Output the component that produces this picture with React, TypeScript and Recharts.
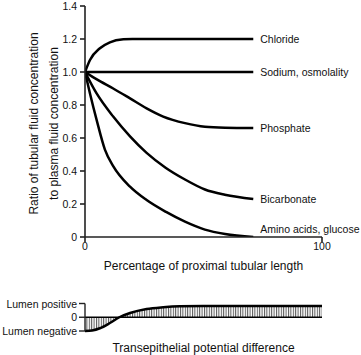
import React from 'react';
import { LineChart, Line, XAxis, YAxis, AreaChart, Area, ReferenceLine, Label } from 'recharts';

const FONT = '"Liberation Sans", Arial, Helvetica, sans-serif';

// ---- data ----
const yTicks = [0, 0.2, 0.4, 0.6, 0.8, 1.0, 1.2, 1.4];
const xTicks = [0, 100];
const xAxisTitle = 'Percentage of proximal tubular length';
const yAxisTitle = ['Ratio of tubular fluid concentration', 'to plasma fluid concentration'];
const seriesNames = ['Chloride', 'Sodium, osmolality', 'Phosphate', 'Bicarbonate', 'Amino acids, glucose'];

const chloride = [
  { x: 0, y: 1.0 }, { x: 2.1, y: 1.073 }, { x: 6.3, y: 1.144 }, { x: 10.5, y: 1.18 },
  { x: 16.2, y: 1.198 }, { x: 20, y: 1.2 }, { x: 71, y: 1.2 },
];
const sodium = [{ x: 0, y: 1.0 }, { x: 71, y: 1.0 }];
const phosphate = [
  { x: 0, y: 1.0 }, { x: 5, y: 0.955 }, { x: 11.9, y: 0.9 }, { x: 19, y: 0.84 }, { x: 26, y: 0.78 },
  { x: 33, y: 0.73 }, { x: 42.2, y: 0.69 }, { x: 50.6, y: 0.668 }, { x: 59.1, y: 0.662 }, { x: 71, y: 0.66 },
];
const bicarbonate = [
  { x: 0, y: 1.0 }, { x: 4.9, y: 0.87 }, { x: 11.9, y: 0.73 }, { x: 19, y: 0.61 }, { x: 26, y: 0.51 },
  { x: 34, y: 0.42 }, { x: 42, y: 0.35 }, { x: 50.6, y: 0.288 }, { x: 59, y: 0.256 }, { x: 71, y: 0.23 },
];
const aminoAcids = [
  { x: 0, y: 1.0 }, { x: 2.1, y: 0.87 }, { x: 4.9, y: 0.71 }, { x: 8.4, y: 0.53 }, { x: 11.9, y: 0.43 },
  { x: 19, y: 0.305 }, { x: 26, y: 0.224 }, { x: 34.2, y: 0.152 }, { x: 42.2, y: 0.093 },
  { x: 50.6, y: 0.045 }, { x: 59.1, y: 0.018 }, { x: 71, y: 0.0 },
];

const potential = [
  { x: 0, y: -1.0 }, { x: 3, y: -0.96 }, { x: 6.3, y: -0.8 }, { x: 10.5, y: -0.42 }, { x: 14.5, y: 0 },
  { x: 19, y: 0.31 }, { x: 26, y: 0.6 }, { x: 33, y: 0.73 }, { x: 40, y: 0.8 }, { x: 50, y: 0.82 },
  { x: 100, y: 0.82 },
];
const potentialTicks = [-1, 0, 1];
const potentialTickLabels = ['Lumen negative', '0', 'Lumen positive'];
const potentialTitle = 'Transepithelial potential difference';

const seriesData = [chloride, sodium, phosphate, bicarbonate, aminoAcids];
const labelDy = [0, 0, 0, 0, -8];

const endLabel = (text: string, lastIndex: number, dy: number) => (props: any) => {
  if (props.index !== lastIndex) return null;
  return (
    <text
      x={Number(props.x) + 7}
      y={Number(props.y) + dy}
      fontSize={10.5}
      fontFamily={FONT}
      fill="#111"
      dominantBaseline="central"
    >
      {text}
    </text>
  );
};

const YTitle = (props: any) => {
  const vb = props.viewBox || { x: 0, y: 6, width: 85, height: 231 };
  const cy = vb.y + vb.height / 2 + 2;
  const xs = [34, 54];
  return (
    <g>
      {yAxisTitle.map((t, i) => (
        <text
          key={t}
          x={xs[i]}
          y={cy}
          transform={`rotate(-90, ${xs[i]}, ${cy})`}
          textAnchor="middle"
          dominantBaseline="central"
          fontSize={12}
          fontFamily={FONT}
          fill="#111"
        >
          {t}
        </text>
      ))}
    </g>
  );
};

const PotentialTick = (props: any) => {
  const { x, y, payload } = props;
  const label = potentialTickLabels[potentialTicks.indexOf(payload.value)];
  return (
    <text
      x={Number(x)}
      y={Number(y)}
      textAnchor="end"
      dominantBaseline="central"
      fontSize={10.5}
      fontFamily={FONT}
      fill="#111"
    >
      {label}
    </text>
  );
};

export default function App() {
  return (
    <div style={{ position: 'absolute', left: 0, top: 0, width: 361, height: 355, background: '#fff' }}>
      <div style={{ position: 'absolute', left: 0, top: 0 }}>
        <LineChart width={361} height={280} margin={{ top: 6, right: 39, bottom: 3, left: 0 }}>
          <XAxis
            type="number"
            dataKey="x"
            domain={[0, 100]}
            ticks={xTicks}
            height={40}
            stroke="#222"
            strokeWidth={1.6}
            tickSize={5}
            tickMargin={1}
            tick={{ fontSize: 10.5, fontFamily: FONT, fill: '#111' }}
            allowDataOverflow
          >
            <Label
              value={xAxisTitle}
              position="insideBottom"
              offset={7}
              style={{ fontSize: 12, fontFamily: FONT, fill: '#111' }}
            />
          </XAxis>
          <YAxis
            type="number"
            domain={[0, 1.4]}
            ticks={yTicks}
            width={85}
            stroke="#222"
            strokeWidth={1.6}
            tickSize={5}
            tickMargin={3}
            tick={{ fontSize: 10.5, fontFamily: FONT, fill: '#111' }}
            tickFormatter={(v: number) => (v === 0 ? '0' : v.toFixed(1))}
            allowDataOverflow
          >
            <Label content={<YTitle />} />
          </YAxis>
          {seriesData.map((d, i) => (
            <Line
              key={seriesNames[i]}
              data={d}
              dataKey="y"
              type="monotone"
              stroke="#000"
              strokeWidth={2.5}
              dot={false}
              activeDot={false}
              isAnimationActive={false}
              label={endLabel(seriesNames[i], d.length - 1, labelDy[i])}
            />
          ))}
        </LineChart>
      </div>
      <div style={{ position: 'absolute', left: 0, top: 290 }}>
        <AreaChart width={361} height={65} data={potential} margin={{ top: 13.5, right: 39, bottom: 0, left: 0 }}>
          <defs>
            <pattern id="vstripes" width="2.4" height="4" patternUnits="userSpaceOnUse">
              <rect x="0" y="0" width="1" height="4" fill="#555" />
            </pattern>
          </defs>
          <XAxis
            type="number"
            dataKey="x"
            domain={[0, 100]}
            height={24}
            axisLine={false}
            tickLine={false}
            tick={false}
          >
            <Label
              value={potentialTitle}
              position="insideBottom"
              offset={3}
              style={{ fontSize: 12, fontFamily: FONT, fill: '#111' }}
            />
          </XAxis>
          <YAxis
            type="number"
            domain={[-1, 1]}
            ticks={potentialTicks}
            width={85}
            stroke="#222"
            strokeWidth={1.4}
            tickSize={6}
            tickMargin={2}
            interval={0}
            tick={<PotentialTick />}
          />
          <Area
            type="monotone"
            dataKey="y"
            stroke="#000"
            strokeWidth={2.5}
            fill="url(#vstripes)"
            fillOpacity={1}
            baseValue={0}
            isAnimationActive={false}
            dot={false}
            activeDot={false}
          />
          <ReferenceLine y={0} stroke="#000" strokeWidth={1.5} />
        </AreaChart>
      </div>
    </div>
  );
}
